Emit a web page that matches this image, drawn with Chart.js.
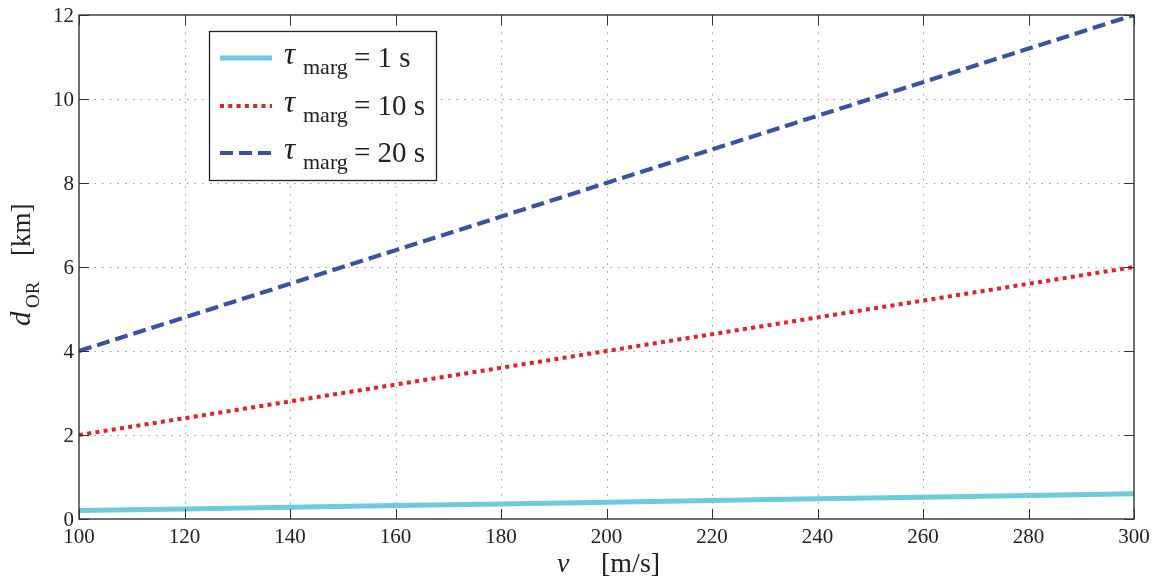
<!DOCTYPE html>
<html>
<head>
<meta charset="utf-8">
<script src="https://cdn.jsdelivr.net/npm/chart.js@4.4.1/dist/chart.umd.min.js"></script>
<style>
html,body{margin:0;padding:0;background:#fff;}
#wrap{width:1160px;height:579px;position:relative;}
</style>
</head>
<body>
<div id="wrap"><canvas id="c" width="1160" height="579"></canvas></div>
<script>
const speeds = [100, 120, 140, 160, 180, 200, 220, 240, 260, 280, 300];
const dTau1  = [0.2, 0.24, 0.28, 0.32, 0.36, 0.4, 0.44, 0.48, 0.52, 0.56, 0.6];
const dTau10 = [2, 2.4, 2.8, 3.2, 3.6, 4, 4.4, 4.8, 5.2, 5.6, 6];
const dTau20 = [4, 4.8, 5.6, 6.4, 7.2, 8, 8.8, 9.6, 10.4, 11.2, 12];
const xTicks = [100, 120, 140, 160, 180, 200, 220, 240, 260, 280, 300];
const yTicks = [0, 2, 4, 6, 8, 10, 12];
const legendValues = ['1', '10', '20'];

const SERIF = '"Liberation Serif","DejaVu Serif",serif';
const colors = ['#6ccbdc', '#ee1c24', '#3953a4'];
const dashes = [[], [4, 4.3], [13, 6]];
const widths = [5, 4, 4.2];

function pts(ys){ return speeds.map((v,i)=>({x:v,y:ys[i]})); }

const framePlugin = {
  id: 'frame',
  beforeDatasetsDraw(chart){
    const {ctx, chartArea:a, scales:{x, y}} = chart;
    ctx.save();
    ctx.strokeStyle = '#9a9a9a';
    ctx.lineWidth = 1;
    ctx.setLineDash([1.5, 6.2]);
    xTicks.forEach(v=>{
      if (v===xTicks[0]||v===xTicks[xTicks.length-1]) return;
      const px = Math.round(x.getPixelForValue(v))+0.5;
      ctx.beginPath(); ctx.moveTo(px, a.bottom); ctx.lineTo(px, a.top); ctx.stroke();
    });
    yTicks.forEach(v=>{
      if (v===yTicks[0]||v===yTicks[yTicks.length-1]) return;
      const py = Math.round(y.getPixelForValue(v))+0.5;
      ctx.beginPath(); ctx.moveTo(a.left, py); ctx.lineTo(a.right, py); ctx.stroke();
    });
    ctx.restore();
  },
  afterDatasetsDraw(chart){
    const {ctx, chartArea:a, scales:{x, y}} = chart;
    ctx.save();
    ctx.strokeStyle = '#222';
    ctx.lineWidth = 1.3;
    ctx.setLineDash([]);
    ctx.strokeRect(a.left, a.top, a.right-a.left, a.bottom-a.top);
    ctx.strokeStyle = '#333';
    ctx.lineWidth = 1;
    const tl = 10;
    xTicks.forEach(v=>{
      const px = Math.round(x.getPixelForValue(v))+0.5;
      ctx.beginPath(); ctx.moveTo(px, a.bottom); ctx.lineTo(px, a.bottom-tl); ctx.stroke();
      ctx.beginPath(); ctx.moveTo(px, a.top); ctx.lineTo(px, a.top+tl); ctx.stroke();
    });
    yTicks.forEach(v=>{
      const py = Math.round(y.getPixelForValue(v))+0.5;
      ctx.beginPath(); ctx.moveTo(a.left, py); ctx.lineTo(a.left+tl, py); ctx.stroke();
      ctx.beginPath(); ctx.moveTo(a.right, py); ctx.lineTo(a.right-tl, py); ctx.stroke();
    });
    // tick labels
    ctx.fillStyle = '#222';
    ctx.font = '21px ' + SERIF;
    ctx.textAlign = 'center';
    ctx.textBaseline = 'alphabetic';
    xTicks.forEach(v=>{
      ctx.fillText(String(v), x.getPixelForValue(v), a.bottom + 24);
    });
    ctx.textAlign = 'right';
    ctx.textBaseline = 'middle';
    yTicks.forEach(v=>{
      ctx.fillText(String(v), a.left - 5, y.getPixelForValue(v) + 1);
    });
    // x title
    ctx.textAlign = 'left';
    ctx.textBaseline = 'alphabetic';
    ctx.font = 'italic 28px ' + SERIF;
    ctx.fillText('v', 557, 572);
    ctx.font = '28px ' + SERIF;
    ctx.fillText('[m/s]', 601, 572);
    // y title
    ctx.save();
    ctx.translate(30, 0);
    ctx.rotate(-Math.PI/2);
    ctx.font = 'italic 29px ' + SERIF;
    ctx.fillText('d', -326, 0);
    ctx.font = '19px ' + SERIF;
    ctx.fillText('OR', -308, 9);
    ctx.font = '27px ' + SERIF;
    ctx.fillText('[km]', -256, 0);
    ctx.restore();
    // legend
    const L = {x:209, y:31, w:227, h:149};
    ctx.fillStyle = '#fff';
    ctx.fillRect(L.x, L.y, L.w, L.h);
    ctx.strokeStyle = '#222';
    ctx.lineWidth = 1.3;
    ctx.strokeRect(L.x+0.5, L.y+0.5, L.w, L.h);
    const rows = [58, 106, 153];
    rows.forEach((ry, i)=>{
      ctx.strokeStyle = colors[i];
      ctx.lineWidth = widths[i];
      ctx.setLineDash(dashes[i]);
      ctx.beginPath(); ctx.moveTo(220, ry); ctx.lineTo(272, ry); ctx.stroke();
      ctx.setLineDash([]);
      ctx.fillStyle = '#222';
      ctx.textAlign = 'left';
      ctx.textBaseline = 'alphabetic';
      ctx.font = 'italic 31px ' + SERIF;
      ctx.fillText('\u03C4', 284, ry + 6);
      ctx.font = '22px ' + SERIF;
      ctx.fillText('marg', 303, ry + 16);
      ctx.font = '29px ' + SERIF;
      ctx.fillText('= ' + legendValues[i] + ' s', 354, ry + 9);
    });
    ctx.restore();
  }
};

new Chart(document.getElementById('c'), {
  type: 'line',
  data: {
    datasets: [
      {label:'tau1', data: pts(dTau1), borderColor: colors[0], borderWidth: widths[0], borderDash: dashes[0], pointRadius:0, fill:false, tension:0},
      {label:'tau10', data: pts(dTau10), borderColor: colors[1], borderWidth: widths[1], borderDash: dashes[1], pointRadius:0, fill:false, tension:0},
      {label:'tau20', data: pts(dTau20), borderColor: colors[2], borderWidth: widths[2], borderDash: dashes[2], pointRadius:0, fill:false, tension:0}
    ]
  },
  options: {
    responsive: false,
    animation: false,
    layout: {padding: {left: 79, top: 15, right: 26, bottom: 60}},
    plugins: {legend: {display:false}, tooltip: {enabled:false}},
    scales: {
      x: {type:'linear', min:100, max:300, display:false},
      y: {type:'linear', min:0, max:12, display:false}
    }
  },
  plugins: [framePlugin]
});
</script>
</body>
</html>
